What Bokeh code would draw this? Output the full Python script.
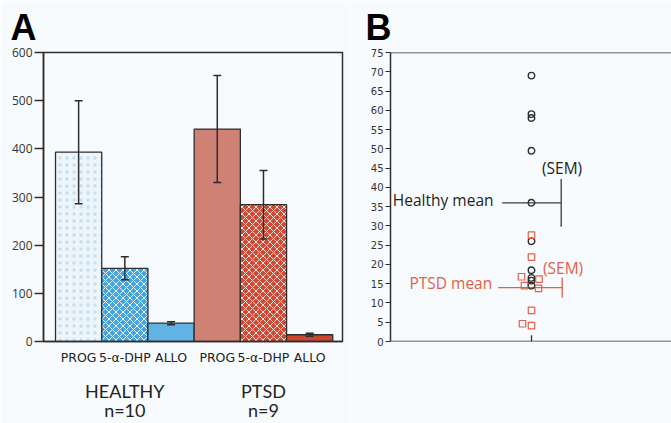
from bokeh.plotting import figure
from bokeh.models import ColumnDataSource, Whisker, TeeHead, Span, FixedTicker, Range1d, LinearAxis, Label
from bokeh.layouts import row
from bokeh.embed import file_html
from bokeh.resources import INLINE

# ---------------- Panel A data ----------------
steroids = ["PROG", "5-\u03b1-DHP", "ALLO", "PROG", "5-\u03b1-DHP", "ALLO"]
groups = ["HEALTHY", "PTSD"]
group_n = ["n=10", "n=9"]
healthy_means = [393, 152, 38]
healthy_sem = [107, 24, 3]
ptsd_means = [441, 284, 14]
ptsd_sem = [111, 71, 3]
a_ticks = [0, 100, 200, 300, 400, 500, 600]

# ---------------- Panel B data ----------------
healthy_vals = [69, 59, 58, 49.5, 36, 26, 18.5, 16.5, 15.8, 14.5]
healthy_jitter = [0, 0, 0, 0, 0, 0, 0, 0, 0, 0]
ptsd_vals = [27.6, 21.9, 16.8, 16.2, 14.5, 13.8, 8.1, 4.6, 4.1]
ptsd_jitter = [0, 0, -0.10, 0.075, -0.07, 0.07, 0, -0.09, 0]
healthy_mean_b = 36.0
healthy_sem_b = 6.2
ptsd_mean_b = 14.0
ptsd_sem_b = 2.6
b_ticks = list(range(0, 80, 5))

BG = "#f8fbfd"
INK = "#2e2e2e"
RED = "#e0604a"
FONT = "Open Sans"
CAT_FONT = "DejaVu Sans"
GRP_FONT = "Lato"

# ================= Panel A =================
means = healthy_means + ptsd_means
sems = healthy_sem + ptsd_sem
xs = list(range(1, len(means) + 1))
src = ColumnDataSource(dict(
    x=xs,
    top=means,
    upper=[m + s for m, s in zip(means, sems)],
    lower=[m - s for m, s in zip(means, sems)],
    fill=["#edf5fb", "#47a4de", "#62b3e4", "#cf8174", "#d04a35", "#c9462f"],
    hatch=["dot", "diagonal_cross", " ", " ", "diagonal_cross", " "],
    hc=["#c4dff1", "#f4f9fd", "white", "white", "#fbf3f1", "white"],
))

pa = figure(width=350, height=423, x_range=Range1d(0.24, 6.71), y_range=Range1d(0, 600),
            output_backend="svg", toolbar_location=None,
            min_border_left=43, min_border_right=8, min_border_top=52, min_border_bottom=82,
            background_fill_color=BG, border_fill_color=BG)
pa.grid.visible = False
pa.outline_line_color = INK
pa.outline_line_width = 1.5
pa.outline_line_alpha = 1

pa.title.text = "A"
pa.title.text_font = "Liberation Sans"
pa.title.text_font_style = "bold"
pa.title.text_font_size = "36px"
pa.title.text_color = "black"
pa.title.align = "left"
pa.title.offset = -33
pa.title.standoff = 9

pa.vbar(x="x", top="top", width=1.0, bottom=0, source=src,
        fill_color="fill", line_color=INK, line_width=1.3,
        hatch_pattern="hatch", hatch_color="hc", hatch_scale=7, hatch_weight=0.9)

wh = Whisker(source=src, base="x", upper="upper", lower="lower",
             line_color=INK, line_width=1.5,
             upper_head=TeeHead(size=8, line_color=INK, line_width=1.5),
             lower_head=TeeHead(size=8, line_color=INK, line_width=1.5))
wh.level = "annotation"
pa.add_layout(wh)

ya = pa.yaxis[0]
ya.ticker = FixedTicker(ticks=a_ticks)
ya.minor_tick_line_color = None
ya.major_tick_out = 9
ya.major_tick_in = 0
ya.major_label_standoff = 2
ya.axis_line_color = INK
ya.axis_line_width = 1.5
ya.major_tick_line_color = INK
ya.major_tick_line_width = 1.5
ya.major_label_text_font = FONT
ya.major_label_text_font_size = "12px"
ya.major_label_text_color = "#333333"

xa = pa.xaxis[0]
xa.ticker = FixedTicker(ticks=xs)
xa.major_label_overrides = {x: s for x, s in zip(xs, steroids)}
xa.major_tick_line_color = None
xa.minor_tick_line_color = None
xa.major_tick_out = 0
xa.major_tick_in = 0
xa.axis_line_color = INK
xa.axis_line_width = 1.5
xa.major_label_standoff = 8
xa.major_label_text_font = CAT_FONT
xa.major_label_text_font_size = "12.5px"
xa.major_label_text_color = "#222222"

group_x = [2, 5]
for labels, standoff in ((groups, 12), (group_n, -6)):
    ax = LinearAxis(ticker=FixedTicker(ticks=group_x),
                    major_label_overrides={x: s for x, s in zip(group_x, labels)})
    ax.axis_line_color = None
    ax.major_tick_line_color = None
    ax.minor_tick_line_color = None
    ax.major_tick_out = 0
    ax.major_tick_in = 0
    ax.major_label_standoff = standoff
    ax.major_label_text_font = GRP_FONT
    ax.major_label_text_font_size = "18px"
    ax.major_label_text_color = "#222222"
    pa.add_layout(ax, "below")

# ================= Panel B =================
pb = figure(width=321, height=423, x_range=Range1d(-1.41, 1.40), y_range=Range1d(0, 75),
            output_backend="svg", toolbar_location=None,
            min_border_left=40, min_border_right=0, min_border_top=52, min_border_bottom=81,
            background_fill_color=BG, border_fill_color=BG)
pb.grid.visible = False
pb.outline_line_color = None
pb.xaxis.visible = False

pb.title.text = "B"
pb.title.text_font = "Liberation Sans"
pb.title.text_font_style = "bold"
pb.title.text_font_size = "36px"
pb.title.text_color = "black"
pb.title.align = "left"
pb.title.offset = -25
pb.title.standoff = 9

yb = pb.yaxis[0]
yb.ticker = FixedTicker(ticks=b_ticks)
yb.minor_tick_line_color = None
yb.major_tick_out = 5
yb.major_tick_in = 0
yb.major_label_standoff = 2
yb.axis_line_color = INK
yb.axis_line_width = 1.5
yb.major_tick_line_color = INK
yb.major_tick_line_width = 1.2
yb.major_label_text_font = "DejaVu Sans"
yb.major_label_text_font_size = "10px"
yb.major_label_text_color = "#333333"

pb.add_layout(Span(location=75, dimension="width", line_color=INK, line_width=1.5))
pb.add_layout(Span(location=0, dimension="width", line_color=INK, line_width=1.5))
# single inward tick on the bottom axis at the group position
pb.segment(x0=[0], x1=[0], y0=[0], y1=[1.6], line_color=INK, line_width=1.3)

# means and SEM
hm_x0, hm_x1 = -0.293, 0.297
pm_x0, pm_x1 = -0.333, 0.307
pb.segment(x0=[hm_x0], x1=[hm_x1], y0=[healthy_mean_b], y1=[healthy_mean_b],
           line_color="#3a3a3a", line_width=1.3)
pb.segment(x0=[hm_x1], x1=[hm_x1], y0=[healthy_mean_b - healthy_sem_b],
           y1=[healthy_mean_b + healthy_sem_b], line_color="#3a3a3a", line_width=1.3)
pb.segment(x0=[pm_x0], x1=[pm_x1], y0=[ptsd_mean_b], y1=[ptsd_mean_b],
           line_color=RED, line_width=1.3)
pb.segment(x0=[pm_x1], x1=[pm_x1], y0=[ptsd_mean_b - ptsd_sem_b],
           y1=[ptsd_mean_b + ptsd_sem_b], line_color=RED, line_width=1.3)

pb.scatter(x=healthy_jitter, y=healthy_vals, marker="circle", size=6.5,
           fill_color=None, line_color=INK, line_width=1.4)
pb.scatter(x=ptsd_jitter, y=ptsd_vals, marker="square", size=6.5,
           fill_color=None, line_color=RED, line_width=1.2)

LBL = "15.5px"
pb.add_layout(Label(x=-0.38, y=healthy_mean_b + 0.6, text="Healthy mean",
                    text_align="right", text_baseline="middle",
                    text_font=FONT, text_font_size=LBL, text_color="#222222"))
pb.add_layout(Label(x=0.105, y=45.0, text="(SEM)",
                    text_align="left", text_baseline="middle",
                    text_font=FONT, text_font_size=LBL, text_color="#222222"))
pb.add_layout(Label(x=-0.393, y=ptsd_mean_b + 1.2, text="PTSD mean",
                    text_align="right", text_baseline="middle",
                    text_font=FONT, text_font_size=LBL, text_color=RED))
pb.add_layout(Label(x=0.115, y=19.2, text="(SEM)",
                    text_align="left", text_baseline="middle",
                    text_font=FONT, text_font_size=LBL, text_color=RED))

layout = row(pa, pb, spacing=0)
open("out.html", "w").write(file_html(layout, INLINE))
